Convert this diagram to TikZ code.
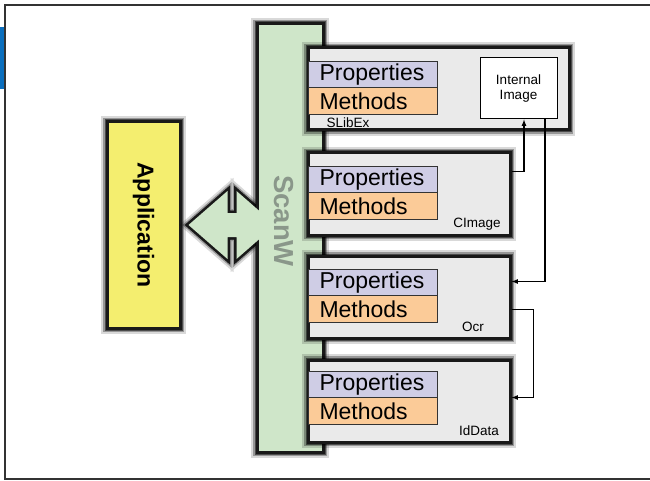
\documentclass[tikz,border=0pt]{standalone}
\usepackage{fontspec}
\setmainfont{Liberation Sans}
\usetikzlibrary{positioning,calc}
\definecolor{scangreen}{HTML}{CFE6C9}
\definecolor{scangray}{HTML}{8A978A}
\definecolor{appyellow}{HTML}{F4EE6F}
\definecolor{boxgray}{HTML}{EAEAEA}
\definecolor{propblue}{HTML}{CFCDE5}
\definecolor{methorange}{HTML}{FBCB98}
\definecolor{tabblue}{HTML}{0A6EBD}
\begin{document}
\begin{tikzpicture}[
        x=1pt, y=-1pt,
        glow/.style={preaction={draw=black, draw opacity=0.15, line width=12pt},
                     preaction={draw=black, draw opacity=0.3, line width=8pt},
                     preaction={draw=black, draw opacity=0.5, line width=5pt},
                     draw=black!90, line width=3pt},
        classbox/.style={glow, fill=boxgray, minimum width=202pt, minimum height=82pt, inner sep=0pt},
        prop/.style={draw=black!80, line width=0.8pt, fill=propblue, outer sep=0pt, minimum height=26pt,
                     text width=107pt, inner xsep=11pt, inner ysep=0pt, align=left,
                     font=\fontsize{23}{23}\selectfont, anchor=north west},
        meth/.style={prop, fill=methorange, minimum height=27pt},
        classname/.style={font=\fontsize{13.5}{14}\selectfont, inner sep=0pt},
        arrow/.style={->, >=latex, line width=1.2pt}
    ]
        \useasboundingbox (0,0) rectangle (650,481);

        % Frame
        \fill[tabblue] (0,27) rectangle (5,89);
        \draw[black!80, line width=2pt] (5,5) rectangle (665,479);

        % Application
        \node[glow, fill=appyellow, minimum width=73pt, minimum height=206pt] (app) at (143.5,225) {};
        \node[rotate=-90, font=\bfseries\fontsize{23}{23}\selectfont] (app-label) at (app) {Application};

        % Link between Application and ScanW
        \coordinate (tipl) at ([xshift=7pt]app.east);
        \def\duplex{(tipl) -- ++(39,-34) -- ++(0,22) -- ++(9,0) -- ++(0,-22) -- ++(39,34)
            -- ++(-39,34) -- ++(0,-22) -- ++(-9,0) -- ++(0,22) -- cycle}
        \path[glow, line width=5pt, fill=scangreen] \duplex;

        % ScanW
        \node[glow, fill=scangreen, minimum width=66pt, minimum height=428pt] (scanw) at (290,238) {};
        \fill[scangreen] \duplex;
        \node[rotate=-90, text=scangray, font=\bfseries\fontsize{27.5}{28}\selectfont] (scanw-label) at (284,221) {ScanW};

        % Classes
        \node[classbox, minimum width=261pt] (slibex) at (438.5,89) {};
        \node[classbox] (cimage) at (409,194) {};
        \node[classbox] (ocr) at (409,297) {};
        \node[classbox] (iddata) at (409,401) {};

        \node[prop] (slibex-p) at ([shift={(2,15)}]slibex.north west) {Properties};
        \node[meth, below=0pt of slibex-p] (slibex-m) {Methods};
        \node[prop] (cimage-p) at ([shift={(2,15)}]cimage.north west) {Properties};
        \node[meth, below=0pt of cimage-p] (cimage-m) {Methods};
        \node[prop] (ocr-p) at ([shift={(2,15)}]ocr.north west) {Properties};
        \node[meth, below=0pt of ocr-p] (ocr-m) {Methods};
        \node[prop] (iddata-p) at ([shift={(2,13)}]iddata.north west) {Properties};
        \node[meth, below=0pt of iddata-p] (iddata-m) {Methods};

        \node[classname] (slibex-name) at (348,123) {SLibEx};
        \node[classname] (cimage-name) at (477,224) {CImage};
        \node[classname] (ocr-name) at (473,327) {Ocr};
        \node[classname] (iddata-name) at (479,431) {IdData};

        % Internal image
        \node[draw, line width=1pt, fill=white, minimum width=77pt, minimum height=61pt, align=center,
              font=\fontsize{13.5}{15}\selectfont] (intimg) at (518.5,88.5) {Internal\\Image};

        % Connections
        \draw[arrow] ($(cimage.north east)+(0,20)$) -| ([xshift=5.5pt]intimg.south);
        \draw[arrow] ([xshift=26.5pt]intimg.south) |- ($(ocr.north east)+(0,27)$);
        \draw[arrow] ($(ocr.north east)+(0,55)$) -- ++(22,0) |- ($(iddata.north east)+(0,39)$);
    \end{tikzpicture}
\end{document}
